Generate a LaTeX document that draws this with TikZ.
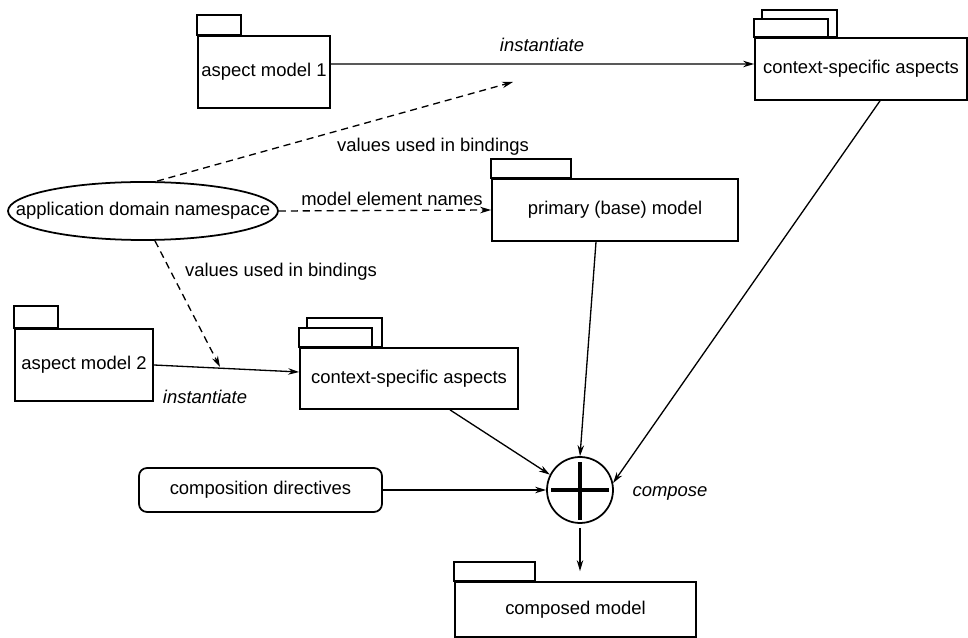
\documentclass[tikz,border=0pt]{standalone}
\usepackage{fontspec}
\setmainfont{Liberation Sans}
\usetikzlibrary{arrows.meta,shapes.geometric}

\begin{document}
\begin{tikzpicture}[x=0.02cm, y=-0.02cm, >={Stealth[length=0.22cm,width=0.13cm]},
        pkg/.style={draw, line width=1pt, fill=white, inner sep=0pt, font=\fontsize{10.5}{12}\selectfont},
        pkgtab/.style={draw, line width=1pt, fill=white},
        link/.style={line width=0.75pt, ->},
        uses/.style={line width=0.75pt, ->, dash pattern=on 4pt off 2.8pt},
        txt/.style={font=\fontsize{10.5}{12}\selectfont},
        itxt/.style={font=\fontsize{10.5}{12}\selectfont\itshape}]

    % Fixes the size of the whole figure
    \useasboundingbox (0,0) rectangle (968,638);

    % Draws the bodies of the packages
    \node[pkg, minimum width=2.64cm, minimum height=1.44cm] (am1) at (264,72) {aspect model 1};
    \node[pkg, minimum width=4.24cm, minimum height=1.24cm] (ctx1) at (861,69) {context-specific aspects};
    \node[pkg, minimum width=4.92cm, minimum height=1.24cm] (prim) at (615,210) {primary (base) model};
    \node[pkg, minimum width=2.76cm, minimum height=1.44cm] (am2) at (84,365) {aspect model 2};
    \node[pkg, minimum width=4.36cm, minimum height=1.22cm] (ctx2) at (409,378.5) {context-specific aspects};
    \node[pkg, minimum width=4.82cm, minimum height=1.1cm] (cm) at (575.5,609.5) {composed model};

    % Draws the tabs on top of the packages
    \draw[pkgtab] (am1.north west) rectangle ++(44,-20);
    \draw[pkgtab] ([xshift=0.16cm]ctx1.north west) rectangle ++(75,-27);
    \draw[pkgtab] (ctx1.north west) rectangle ++(74,-18);
    \draw[pkgtab] (prim.north west) rectangle ++(80,-19);
    \draw[pkgtab] (am2.north west) rectangle ++(44,-22);
    \draw[pkgtab] ([xshift=0.16cm]ctx2.north west) rectangle ++(75,-29);
    \draw[pkgtab] (ctx2.north west) rectangle ++(73,-19);
    \draw[pkgtab] (cm.north west) rectangle ++(81,-19);

    % Draws the namespace and the directives
    \node[draw, ellipse, line width=1pt, inner sep=0pt, minimum width=5.4cm, minimum height=1.16cm,
          label={[txt, name=lns]center:application domain namespace}] (ns) at (143,211) {};
    \node[draw, rounded corners=0.16cm, line width=1pt, minimum width=4.86cm, minimum height=0.88cm, txt] (cd) at (260.5,490) {composition directives};

    % Draws the compose operator
    \node[draw, circle, line width=1pt, minimum size=1.32cm, inner sep=0pt] (cmp) at (580,490) {};
    \draw[line width=2.8pt] ([xshift=-0.58cm]cmp.center) -- ([xshift=0.58cm]cmp.center);
    \draw[line width=2.8pt] ([yshift=0.56cm]cmp.center) -- ([yshift=-0.6cm]cmp.center);
    \node[itxt] (lcmp) at (670,493) {compose};

    % Draws the instantiations
    \draw[link] ([yshift=0.16cm]am1.east) -- ([yshift=0.1cm]ctx1.west);
    \node[itxt] (linst1) at (542,45) {instantiate};
    \draw[link] (am2.east) -- ([yshift=0.13cm]ctx2.west);
    \node[itxt] (linst2) at (205,397) {instantiate};

    % Draws the uses of the namespace
    \coordinate (bind1) at (513,82);
    \coordinate (bind2) at (220,367);
    \draw[uses] ([xshift=0.28cm]ns.north) -- (bind1);
    \node[txt] (lbind1) at (433,147) {values used in bindings};
    \draw[uses] (ns.east) -- (prim.west);
    \node[txt] (lnames) at (392,199) {model element names};
    \draw[uses] ([xshift=0.24cm]ns.south) -- (bind2);
    \node[txt] (lbind2) at (281,272) {values used in bindings};

    % Draws the inputs and the output of the composition
    \draw[link] ([xshift=0.82cm]ctx2.south) -- (cmp.153);
    \draw[link] ([xshift=-0.38cm]prim.south) -- (cmp.north);
    \draw[link] ([xshift=0.38cm]ctx1.south) -- (cmp.12);
    \draw[link] (cd.east) -- (cmp.west);
    \draw[link, shorten <=0.08cm, shorten >=0.2cm] (cmp.south) -- (cmp.south |- cm.north);

\end{tikzpicture}
\end{document}
